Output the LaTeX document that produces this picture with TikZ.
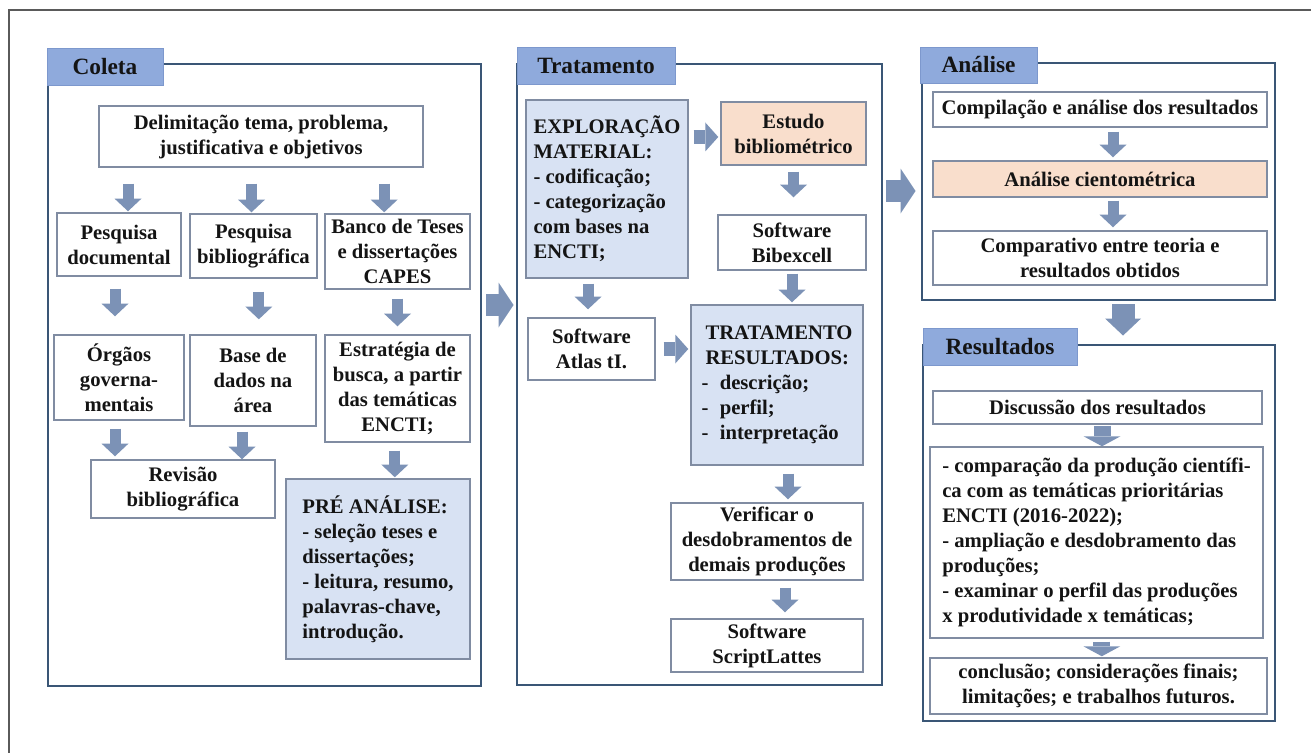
\documentclass[tikz,border=0pt]{standalone}
\usepackage{fontspec}
\setmainfont{Liberation Serif}
\usetikzlibrary{arrows.meta,calc}
\definecolor{panelc}{RGB}{58,86,118}
\definecolor{tabc}{RGB}{143,170,220}
\definecolor{tabd}{RGB}{125,152,205}
\definecolor{arrc}{RGB}{124,146,182}
\definecolor{lblue}{RGB}{216,226,243}
\definecolor{lorange}{RGB}{249,222,204}
\definecolor{boxc}{RGB}{128,140,162}
\definecolor{framec}{RGB}{90,90,90}
\definecolor{txt}{RGB}{20,20,20}
\newcommand\bx[7]{\node[#6, minimum width={(#4-#2)*0.75pt}, minimum height={(#5-#3)*0.75pt}] (#1) at ({(#2+#4)/2},{(#3+#5)/2}) {#7};}
\begin{document}
\begin{tikzpicture}[x=0.75pt,y=-0.75pt,
 panel/.style={draw=panelc,line width=2.2pt,fill=white,inner sep=0pt},
 tabbox/.style={fill=tabc,draw=tabd,line width=0.6pt,inner sep=0pt,font=\bfseries\fontsize{17.5}{20}\selectfont,text=txt},
 bx/.style={draw=boxc,line width=1.1pt,fill=white,inner sep=0pt,align=center,font=\bfseries\fontsize{15.5}{18.75}\selectfont,text=txt},
 bxl/.style={bx,align=left},
 sarrow/.style={draw=arrc,line width=8.25pt,-{Triangle[width=20.25pt,length=9.5pt,line width=0pt]}},
 marrow/.style={draw=arrc,line width=10.5pt,-{Triangle[width=21.75pt,length=9.75pt,line width=0pt]}},
 warrow/.style={draw=arrc,line width=12.75pt,-{Triangle[width=27.75pt,length=7.5pt,line width=0pt]}},
 barrow/.style={draw=arrc,line width=16.5pt,-{Triangle[width=33.75pt,length=11.25pt,line width=0pt]}},
 larrow/.style={draw=arrc,line width=17.25pt,-{Triangle[width=27pt,length=12.75pt,line width=0pt]}}]
\fill[white] (0,0) rectangle (1311,753);
\useasboundingbox (0,0) rectangle (1311,753);
\draw[framec,line width=1.1pt] (9,753) -- (9,10) -- (1311,10);

% ---------- Coleta ----------
\bx{col}{48}{64}{481}{686}{panel}{}
\bx{colt}{47}{48}{163}{85}{tabbox}{Coleta}
\bx{del}{99}{106}{423}{167}{bx}{Delimitação tema, problema,\\justificativa e objetivos}
\bx{pd}{57}{213}{181}{276}{bx}{Pesquisa\\documental}
\bx{pb}{190}{214}{317}{278}{bx}{Pesquisa\\bibliográfica}
\bx{bt}{325}{214}{470}{289}{bx}{Banco de Teses\\e dissertações\\CAPES}
\bx{og}{54}{335}{184}{420}{bx}{Órgãos\\governa-\\mentais}
\bx{bd}{190}{335}{316}{426}{bx}{Base de\\dados na\\área}
\bx{es}{325}{335}{470}{442}{bx}{Estratégia de\\busca, a partir\\das temáticas\\ENCTI;}
\bx{rv}{91}{460}{275}{518}{bx}{Revisão\\bibliográfica}
\bx{pa}{286}{479}{470}{659}{bxl,fill=lblue}{PRÉ ANÁLISE:\\- seleção teses e\\dissertações;\\- leitura, resumo,\\palavras-chave,\\introdução.}

\draw[sarrow,shorten <=12pt,shorten >=0.75pt] ([xshift=6.75pt]pd.north |- del.south) -- ([xshift=6.75pt]pd.north);
\draw[sarrow,shorten <=12pt,shorten >=0.75pt] ([xshift=-1.5pt]pb.north |- del.south) -- ([xshift=-1.5pt]pb.north);
\draw[sarrow,shorten <=12pt,shorten >=0.75pt] ([xshift=-10pt]bt.north |- del.south) -- ([xshift=-10pt]bt.north);
\draw[sarrow,shorten <=9pt,shorten >=13.5pt] ([xshift=-3pt]pd.south) -- ([xshift=-3pt]pd.south |- og.north);
\draw[sarrow,shorten <=9.75pt,shorten >=11.25pt] ([xshift=4pt]pb.south) -- ([xshift=4pt]pb.south |- bd.north);
\draw[sarrow,shorten <=6.75pt,shorten >=6pt] (bt.south) -- (bt.south |- es.north);
\draw[sarrow,shorten <=6pt,shorten >=2.25pt] ([xshift=-3pt]og.south) -- ([xshift=-3pt]og.south |- rv.north);
\draw[sarrow,shorten <=3.75pt,shorten >=0pt] ([xshift=-8.25pt]bd.south) -- ([xshift=-8.25pt]bd.south |- rv.north);
\draw[sarrow,shorten <=6pt,shorten >=0.75pt] ([xshift=-2pt]es.south) -- ([xshift=-2pt]es.south |- pa.north);

% ---------- Tratamento ----------
\bx{tra}{517}{64}{882}{685}{panel}{}
\bx{trat}{517}{47}{675}{84}{tabbox}{Tratamento}
\bx{ex}{526}{100}{688}{278}{bxl,fill=lblue}{EXPLORAÇÃO\\MATERIAL:\\- codificação;\\- categorização\\com bases na\\ENCTI;}
\bx{eb}{721}{102}{866}{165}{bx,fill=lorange}{Estudo\\bibliométrico}
\bx{sb}{718}{215}{866}{270}{bx}{Software\\Bibexcell}
\bx{at}{528}{318}{655}{380}{bx}{Software\\Atlas tI.}
\bx{tr}{691}{305}{863}{465}{bxl,fill=lblue}{\hspace*{3pt}TRATAMENTO\\\hspace*{3pt}RESULTADOS:\\-\hspace{0.55em}descrição;\\-\hspace{0.55em}perfil;\\-\hspace{0.55em}interpretação}
\bx{vf}{671}{503}{863}{580}{bx}{Verificar o\\desdobramentos de\\demais produções}
\bx{sl}{671}{619}{863}{672}{bx}{Software\\ScriptLattes}

\draw[marrow,shorten <=3.75pt,shorten >=1.5pt] ([yshift=-2.6pt]ex.east |- eb.west) -- ([yshift=-2.6pt]eb.west);
\draw[sarrow,shorten <=4.5pt,shorten >=12.75pt] (eb.south) -- (eb.south |- sb.north);
\draw[sarrow,shorten <=2.25pt,shorten >=1.5pt] (sb.south) -- (sb.south |- tr.north);
\draw[sarrow,shorten <=3.75pt,shorten >=6pt] ([xshift=-2.6pt]at.north |- ex.south) -- ([xshift=-2.6pt]at.north);
\draw[marrow,shorten <=6pt,shorten >=1.5pt] (at.east) -- (at.east -| tr.west);
\draw[sarrow,shorten <=6pt,shorten >=2.25pt] ([xshift=8.25pt]tr.south) -- ([xshift=8.25pt]tr.south |- vf.north);
\draw[sarrow,shorten <=5.25pt,shorten >=4.5pt] ([xshift=13.5pt]vf.south) -- ([xshift=13.5pt]vf.south |- sl.north);

% ---------- Analise ----------
\bx{ana}{922}{63}{1275}{300}{panel}{}
\bx{anat}{920}{47}{1037}{83}{tabbox}{Análise}
\bx{cp}{933}{92}{1267}{127}{bx}{Compilação e análise dos resultados}
\bx{ac}{933}{161}{1267}{197}{bx,fill=lorange}{Análise cientométrica}
\bx{cm}{933}{231}{1267}{285}{bx}{Comparativo entre teoria e\\resultados obtidos}
\draw[sarrow,shorten <=3pt,shorten >=2.25pt] ([xshift=9.75pt]cp.south) -- ([xshift=9.75pt]cp.south |- ac.north);
\draw[sarrow,shorten <=2.25pt,shorten >=2.25pt] ([xshift=9.75pt]ac.south) -- ([xshift=9.75pt]ac.south |- cm.north);

% ---------- Resultados ----------
\bx{res}{923}{345}{1275}{721}{panel}{}
\bx{rest}{923}{328}{1077}{365}{tabbox}{Resultados}
\bx{ds}{933}{391}{1262}{424}{bx}{Discussão dos resultados}
\bx{cz}{930}{447}{1263}{638}{bxl}{- comparação da produção científi-\\ca com as temáticas prioritárias\\ENCTI (2016-2022);\\- ampliação e desdobramento das\\produções;\\- examinar o perfil das produções\\x produtividade x temáticas;}
\bx{cc}{930}{658}{1267}{714}{bx}{conclusão; considerações finais;\\limitações; e trabalhos futuros.}
\draw[warrow,shorten <=0.75pt,shorten >=0pt] ([xshift=3.4pt]ds.south) -- ([xshift=3.4pt]ds.south |- cz.north);
\draw[warrow,shorten <=2.25pt,shorten >=0.75pt] ([xshift=4pt]cz.south) -- ([xshift=4pt]cz.south |- cc.north);

% ---------- panel-to-panel arrows ----------
\draw[barrow,shorten <=3pt,shorten >=1.5pt] ([yshift=52.5pt]col.east) -- ([yshift=52.5pt]col.east -| tra.west);
\draw[barrow,shorten <=2.25pt,shorten >=3.75pt] ([yshift=137.6pt]tra.east) -- ([yshift=137.6pt]tra.east -| ana.west);
\draw[larrow,shorten <=2.25pt,shorten >=6pt] ([xshift=18.4pt]ana.south) -- ([xshift=18.4pt]ana.south |- res.north);
\end{tikzpicture}
\end{document}
